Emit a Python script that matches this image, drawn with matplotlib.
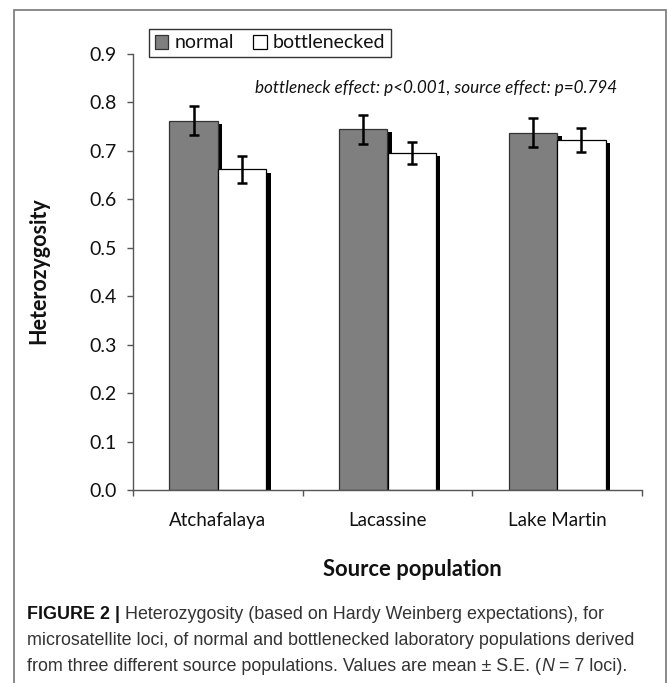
import matplotlib
matplotlib.use("Agg")
import matplotlib.pyplot as plt
from matplotlib.patches import Patch, Rectangle
import numpy as np

# ---------------------------------------------------------------------------
# Data
# ---------------------------------------------------------------------------
sources = ["Atchafalaya", "Lacassine", "Lake Martin"]
normal = [0.762, 0.745, 0.737]
normal_se = [0.030, 0.030, 0.030]
bottlenecked = [0.662, 0.696, 0.723]
bottlenecked_se = [0.028, 0.023, 0.025]
y_ticks = [0.0, 0.1, 0.2, 0.3, 0.4, 0.5, 0.6, 0.7, 0.8, 0.9]
series_names = ["normal", "bottlenecked"]
stats_note = "bottleneck effect: p<0.001, source effect: p=0.794"
caption_lines = [
    [("FIGURE 2 | ", "bold"), ("Heterozygosity (based on Hardy Weinberg expectations), for", "normal")],
    [("microsatellite loci, of normal and bottlenecked laboratory populations derived", "normal")],
    [("from three different source populations. Values are mean \u00b1 S.E. (", "normal"),
     ("N", "italic"), (" = 7 loci).", "normal")],
]

W, H = 669, 683
CHART_FONT = ["Lato", "DejaVu Sans"]
CAP_FONT = ["Liberation Sans", "DejaVu Sans"]
GRAY = "#7f7f7f"
INK = "#111111"

fig = plt.figure(figsize=(W / 100, H / 100), dpi=100)
ax = fig.add_axes([133 / W, 1 - 490 / H, (642 - 133) / W, (490 - 54) / H])

x = np.arange(len(sources))
bw = 0.285
dx, dy = 0.026, 0.007  # drop-shadow offset (data units)

# ── Bars with black drop shadow ─────────────────────────────────────────────
for off, vals, se, fc, ec in [(-bw / 2, normal, normal_se, GRAY, "#333333"),
                              (bw / 2, bottlenecked, bottlenecked_se, "white", "black")]:
    pos = x + off
    ax.bar(pos + dx, np.array(vals) - dy, width=bw, color="black",
           linewidth=0, zorder=1)
    ax.bar(pos, vals, width=bw, color=fc, edgecolor=ec, linewidth=0.9, zorder=2)
    ax.errorbar(pos, vals, yerr=se, fmt="none", ecolor="black",
                elinewidth=1.8, capsize=3.5, capthick=1.8, zorder=3)

# ── Axes styling ────────────────────────────────────────────────────────────
ax.set_xlim(-0.5, len(sources) - 0.5)
ax.set_ylim(0, 0.9)
for s in ["top", "right"]:
    ax.spines[s].set_visible(False)
for s in ["left", "bottom"]:
    ax.spines[s].set_color("#555555")
    ax.spines[s].set_linewidth(1.0)

ax.set_yticks(y_ticks)
ax.set_yticklabels([f"{t:.1f}" for t in y_ticks], fontfamily=CHART_FONT,
                   fontsize=14, color=INK)
ax.tick_params(axis="y", direction="out", length=4, width=1.0,
               color="#555555", pad=8)

ax.set_xticks(x)
ax.set_xticklabels(sources, fontfamily=CHART_FONT, fontsize=13.5, color=INK)
ax.set_xticks(np.arange(len(sources) + 1) - 0.5, minor=True)
ax.tick_params(axis="x", which="major", length=0, pad=16)
ax.tick_params(axis="x", which="minor", direction="out", length=4,
               width=1.0, color="#555555")

# ── Legend ──────────────────────────────────────────────────────────────────
handles = [Patch(facecolor=GRAY, edgecolor="#333333", linewidth=0.9),
           Patch(facecolor="white", edgecolor="black", linewidth=0.9)]
leg = fig.legend(handles, series_names, loc="center",
                 bbox_to_anchor=(270 / W, 1 - 43 / H), ncol=2, frameon=True,
                 fancybox=False, handlelength=0.7, handleheight=0.7,
                 handletextpad=0.3, columnspacing=1.0, borderpad=0.3,
                 prop={"family": CHART_FONT, "size": 14})
leg.get_frame().set_edgecolor("black")
leg.get_frame().set_linewidth(1.0)
for t in leg.get_texts():
    t.set_color(INK)

# ── Texts ───────────────────────────────────────────────────────────────────
fig.text(436 / W, 1 - 88 / H, stats_note, ha="center", va="center",
         fontfamily=CHART_FONT, style="italic", fontsize=12.3, color=INK)
fig.text(39 / W, 1 - 271 / H, "Heterozygosity", rotation=90, ha="center",
         va="center", fontfamily=CHART_FONT, fontweight="bold", fontsize=15.5,
         color=INK)
fig.text(412 / W, 1 - 569 / H, "Source population", ha="center", va="center",
         fontfamily=CHART_FONT, fontweight="bold", fontsize=15.8, color=INK)

# ── Outer frame ─────────────────────────────────────────────────────────────
fig.patches.append(Rectangle((14 / W, -0.05), (666 - 14) / W, (H - 10) / H + 0.05,
                             transform=fig.transFigure, fill=False,
                             edgecolor="#777777", linewidth=1.2))

# ── Caption (mixed styles, placed piece by piece) ───────────────────────────
renderer = fig.canvas.get_renderer()
baselines = [619, 645, 671]
for line, yb in zip(caption_lines, baselines):
    xp = 27
    for txt, sty in line:
        kw = dict(fontfamily=CAP_FONT, fontsize=12.9, va="baseline", ha="left",
                  color="#333333")
        if sty == "bold":
            kw.update(fontweight="bold", color="#111111")
        elif sty == "italic":
            kw.update(style="italic")
        t = fig.text(xp / W, 1 - yb / H, txt, **kw)
        xp += t.get_window_extent(renderer).width

fig.savefig("out.png", dpi=100)
